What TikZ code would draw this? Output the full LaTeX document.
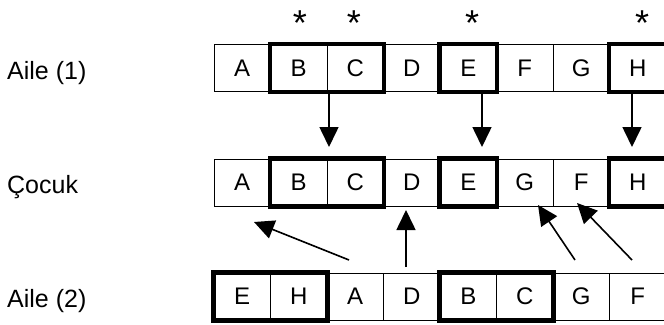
\documentclass[tikz,border=0pt]{standalone}
\usepackage{fontspec}
\setmainfont{Liberation Sans}
\usetikzlibrary{arrows.meta}
\begin{document}
\begin{tikzpicture}[x=1pt,y=-1pt,
  cell/.style={draw, line width=1pt, minimum width=56.5pt, minimum height=47pt, inner sep=0pt, font=\fontsize{24}{24}\selectfont},
  thickbox/.style={draw, line width=4.5pt},
  rowlabel/.style={anchor=base west, inner sep=0pt, font=\fontsize{25}{25}\selectfont},
  starmark/.style={anchor=base, inner sep=0pt, font=\fontsize{36}{36}\selectfont},
  arr/.style={line width=1.6pt, -{Triangle[length=20pt,width=19pt]}}]
\useasboundingbox (0,0) rectangle (664,324);
% labels
\node[rowlabel] (l1) at (7,79) {Aile (1)};
\node[rowlabel] (l2) at (7,193) {Çocuk};
\node[rowlabel] (l3) at (7,307) {Aile (2)};
% row 1
\foreach \t [count=\i from 0] in {A,B,C,D,E,F,G,H}
  \node[cell] (a\t) at ({214+56.5*(\i+0.5)},68) {\t};
% row 2
\foreach \t/\n [count=\i from 0] in {A/1,B/2,C/3,D/4,E/5,G/6,F/7,H/8}
  \node[cell] (c\n) at ({214+56.5*(\i+0.5)},182.5) {\t};
% row 3
\foreach \t/\n [count=\i from 0] in {E/1,H/2,A/3,D/4,B/5,C/6,G/7,F/8}
  \node[cell] (b\n) at ({214+56.5*(\i+0.5)},296.5) {\t};
% thick boxes
\draw[thickbox] (aB.north west) rectangle (aC.south east);
\draw[thickbox] (aE.north west) rectangle (aE.south east);
\draw[thickbox] (aH.north west) rectangle (aH.south east);
\draw[thickbox] (c2.north west) rectangle (c3.south east);
\draw[thickbox] (c5.north west) rectangle (c5.south east);
\draw[thickbox] (c8.north west) rectangle (c8.south east);
\draw[thickbox] (b1.north west) rectangle (b2.south east);
\draw[thickbox] (b5.north west) rectangle (b6.south east);
% stars
\node[starmark] (s1) at (300,35) {*};
\node[starmark] (s2) at (354,35) {*};
\node[starmark] (s3) at (472,35) {*};
\node[starmark] (s4) at (642,35) {*};
% arrow endpoints
\coordinate (d1s) at (329,94);
\coordinate (d1) at (329,147);
\coordinate (d2s) at (482,94);
\coordinate (d2) at (482,147);
\coordinate (d3s) at (632,94);
\coordinate (d3) at (632,147);
\coordinate (u1s) at (406,267);
\coordinate (u1e) at (406,210);
\coordinate (u2s) at (349,260);
\coordinate (u2e) at (254,222);
\coordinate (u3s) at (575,260);
\coordinate (u3e) at (538,205);
\coordinate (u4s) at (632,260);
\coordinate (u4e) at (577,203);
\draw[arr] (d1s) -- (d1);
\draw[arr] (d2s) -- (d2);
\draw[arr] (d3s) -- (d3);
\draw[arr] (u1s) -- (u1e);
\draw[arr] (u2s) -- (u2e);
\draw[arr] (u3s) -- (u3e);
\draw[arr] (u4s) -- (u4e);
\end{tikzpicture}
\end{document}
